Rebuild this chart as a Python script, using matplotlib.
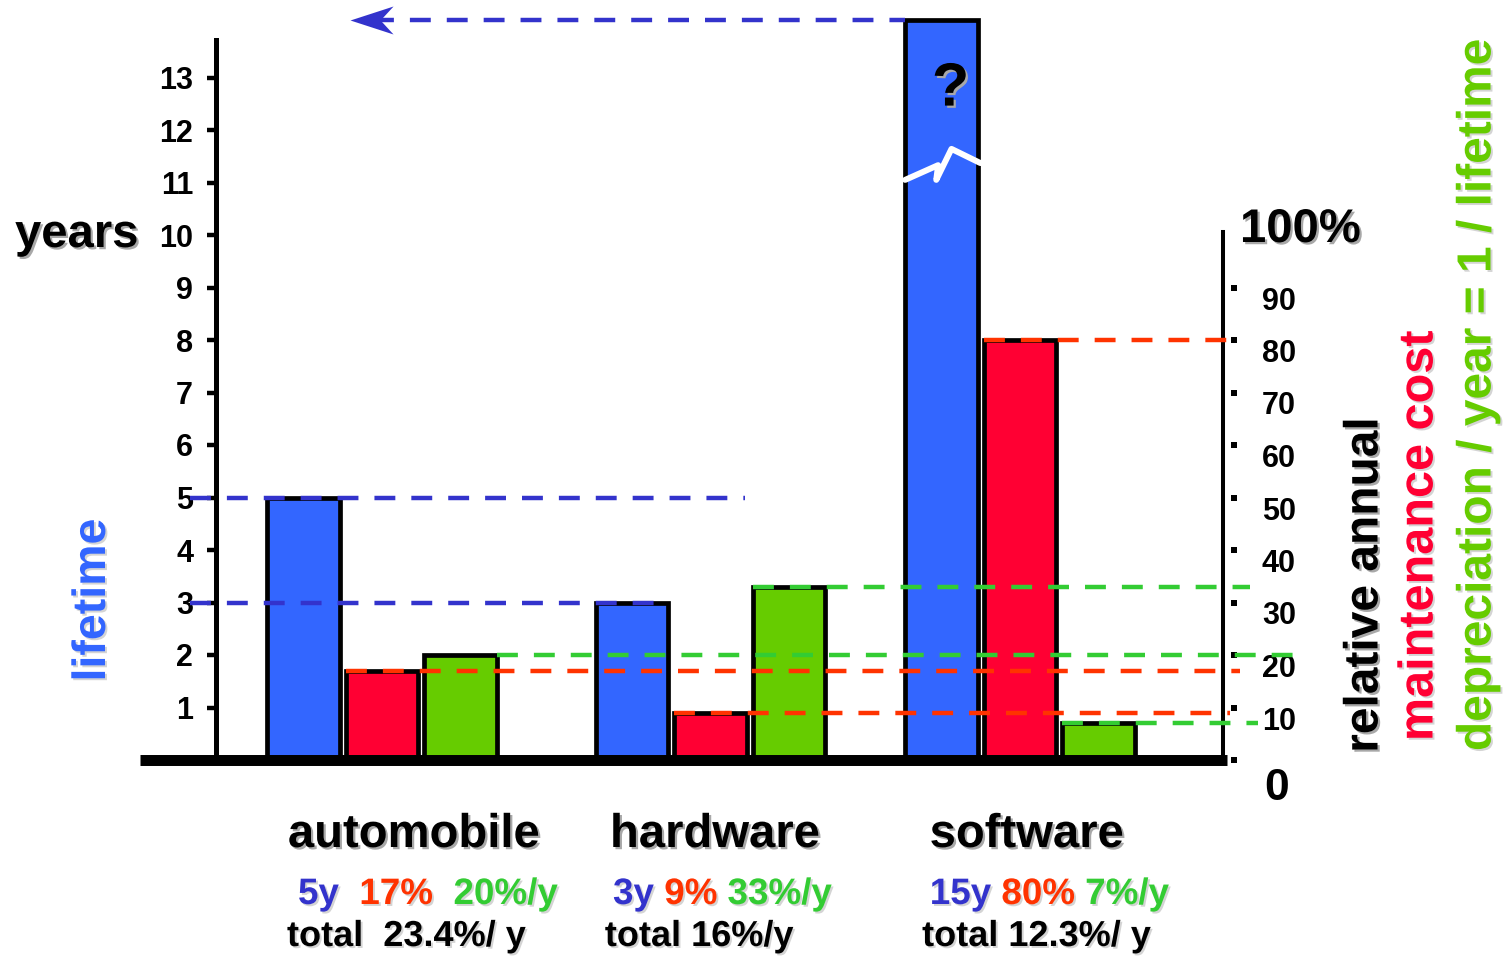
import matplotlib
matplotlib.use("Agg")
import matplotlib.pyplot as plt
import matplotlib.patheffects as pe
from matplotlib.path import Path
from matplotlib.transforms import ScaledTranslation, blended_transform_factory

# ---- data ----
categories = ["automobile", "hardware", "software"]
lifetime_years = [5, 3, 15]        # blue bars, left axis (years)
maintenance_pct = [17, 9, 80]      # red bars, right axis (% per year)
depreciation_pct = [20, 33, 7]     # green bars, right axis (= 1 / lifetime)
total_labels = ["total  23.4%/ y", "total 16%/y", "total 12.3%/ y"]
year_ticks = list(range(1, 14))
pct_ticks = list(range(0, 100, 10))

plt.rcParams["font.family"] = ["Liberation Sans", "DejaVu Sans"]
plt.rcParams["font.weight"] = "bold"

BLUE, RED, GREEN = "#3366ff", "#ff0033", "#66cc00"
BLUE_D, RED_D, GREEN_D = "#3333cc", "#ff3300", "#33cc33"
SHADOW = [pe.withSimplePatchShadow(offset=(1.6, -1.6), shadow_rgbFace="#a8a8a8", alpha=1.0)]
SHADOW_L = [pe.withSimplePatchShadow(offset=(1.4, -1.4), shadow_rgbFace="#d4d4d4", alpha=1.0)]

W, H, DPI = 1509, 960, 100
fig = plt.figure(figsize=(W / DPI, H / DPI), dpi=DPI)


def fx(px):
    return px / W


def fy(py):
    return 1 - py / H


# frame in pixels: left axis line, right axis line, baseline
X0, X1, Y0 = 216, 1223, 760
UNIT = 77.0   # px per bar slot
PPY = 52.5    # px per year (= px per 10 %)

ax = fig.add_axes([fx(X0), fy(Y0), fx(X1) - fx(X0), Y0 / H])
ax.set_xlim(0, (X1 - X0) / UNIT)
ax.set_ylim(0, Y0 / PPY)
ax2 = ax.twinx()
ax2.set_ylim(0, 10 * Y0 / PPY)

# ---- bars ----
group_x = [2.156, 6.42, 10.44]
slot = [-1.02, 0.0, 1.02]
BAR_W = 0.94
BREAK_TOP = 14.1   # the software lifetime bar is drawn broken at this height


def bx(k):
    return [g + slot[k] for g in group_x]


shown_life = [min(v, BREAK_TOP) for v in lifetime_years]
edge = dict(edgecolor="black", linewidth=3.4, zorder=2)
ax.bar(bx(0), shown_life, BAR_W, color=BLUE, **edge)
ax2.bar(bx(1), maintenance_pct, BAR_W, color=RED, **edge)
ax2.bar(bx(2), depreciation_pct, BAR_W, color=GREEN, **edge)

# axis break on the software lifetime bar
sw_left = bx(0)[2] - BAR_W / 2
zz_dx = [0.0, 0.455, 0.43, 0.64, 1.04]
zz_y = [11.05, 11.33, 11.05, 11.64, 11.37]
ax.plot([sw_left + d * BAR_W for d in zz_dx], zz_y, color="white", lw=4.3,
        solid_capstyle="round", zorder=3)
ax.text(bx(0)[2] + 0.12, 12.76, "?", fontsize=44, ha="center", va="center",
        path_effects=SHADOW, zorder=3)

# ---- dashed guide lines ----
DASH = (4.7, 3.6)


def guide(axis, y, x0, x1, color):
    axis.plot([x0, x1], [y, y], color=color, lw=3.2, dashes=DASH,
              dash_capstyle="butt", clip_on=False, zorder=4)


ARROW_X = 1.74
guide(ax, lifetime_years[0], -0.34, 6.87, BLUE_D)
guide(ax, lifetime_years[1], -0.34, 5.77, BLUE_D)
guide(ax, BREAK_TOP, ARROW_X + 0.3, sw_left, BLUE_D)
ARROW = Path([(0, 0), (2, 0.65), (1.4, 0), (2, -0.65), (0, 0)],
             [Path.MOVETO, Path.LINETO, Path.LINETO, Path.LINETO, Path.CLOSEPOLY])
ax.plot([ARROW_X], [BREAK_TOP], ls="none", marker=ARROW, ms=62, mew=0,
        color=BLUE_D, clip_on=False, zorder=4)

guide(ax2, maintenance_pct[2], bx(1)[2] - BAR_W / 2, 13.17, RED_D)
guide(ax2, maintenance_pct[0], bx(1)[0] - BAR_W / 2, 13.30, RED_D)
guide(ax2, maintenance_pct[1], bx(1)[1] - BAR_W / 2, 13.17, RED_D)
guide(ax2, depreciation_pct[1], bx(2)[1] - BAR_W / 2, 13.43, GREEN_D)
guide(ax2, depreciation_pct[0], bx(2)[0] + BAR_W / 2, 14.01, GREEN_D)
guide(ax2, depreciation_pct[2], bx(2)[2] - BAR_W / 2, 13.53, GREEN_D)

# ---- baseline ----
ax2.axhline(0, xmin=(140 - X0) / (X1 - X0), xmax=(1227 - X0) / (X1 - X0),
            color="black", lw=7.9, solid_capstyle="butt", clip_on=False, zorder=6)

# ---- left axis (years) ----
for s in ("top", "bottom", "right"):
    ax.spines[s].set_visible(False)
ax.spines["left"].set_linewidth(3.6)
ax.spines["left"].set_bounds(0.1, 13.71)
ax.set_xticks([])
ax.set_yticks(year_ticks)
ax.set_yticklabels([str(v) for v in year_ticks], fontsize=22, fontweight="bold")
ax.tick_params(axis="y", direction="out", length=6.5, width=3.2, pad=10)
fig.text(fx(15), fy(247), "years", fontsize=34, ha="left", va="baseline",
         path_effects=SHADOW)
fig.text(fx(93), fy(600), "lifetime", fontsize=33.5, color=BLUE, rotation=90,
         ha="center", va="center", path_effects=SHADOW_L)

# ---- right axis (percent) ----
for s in ("top", "bottom", "left"):
    ax2.spines[s].set_visible(False)
ax2.spines["right"].set_linewidth(2.9)
ax2.spines["right"].set_bounds(0, 100.5)
ax2.set_yticks([])
ytr = ax2.get_yaxis_transform()


def off(dx, dy):
    return ScaledTranslation(dx / DPI, -dy / DPI, fig.dpi_scale_trans)


ax2.plot([1.0] * len(pct_ticks), pct_ticks, ls="none", marker="s", ms=4.0, mew=0,
         color="black", transform=ytr + off(11, 0), clip_on=False)
for v in pct_ticks[1:]:
    ax2.text(1.0, v, str(v), transform=ytr + off(39, 14), ha="left", va="center",
             fontsize=22, clip_on=False)
ax2.text(1.0, 0, "0", transform=ytr + off(54, 28), ha="center", va="center",
         fontsize=32, clip_on=False)
ax2.text(1.0, 100, "100%", transform=ytr + off(17, -5), ha="left", va="center",
         fontsize=34, clip_on=False, path_effects=SHADOW)

fig.text(fx(1365), fy(585), "relative annual", fontsize=34.5, rotation=90,
         ha="center", va="center", path_effects=SHADOW)
fig.text(fx(1420), fy(536), "maintenance cost", fontsize=35, color=RED,
         rotation=90, ha="center", va="center", path_effects=SHADOW_L)
fig.text(fx(1478), fy(395), "depreciation / year = 1 / lifetime", fontsize=34.5,
         color=GREEN, rotation=90, ha="center", va="center", path_effects=SHADOW_L)

# ---- category labels and summaries ----
xfig = blended_transform_factory(ax.transData, fig.transFigure)
label_x = [2.57, 6.48, 10.53]
row1_x = [1.065, 5.156, 9.27]
row2_x = [0.922, 5.05, 9.17]
seps = ["  ", " ", " "]

for i, name in enumerate(categories):
    ax.text(label_x[i], fy(847), name, transform=xfig, fontsize=34, ha="center",
            va="baseline", path_effects=SHADOW, clip_on=False)
    pieces = [(f"{lifetime_years[i]}y", BLUE_D),
              (f"{seps[i]}{maintenance_pct[i]}%", RED_D),
              (f"{seps[i]}{depreciation_pct[i]}%/y", GREEN_D)]
    prev = ax.text(row1_x[i], fy(904), pieces[0][0], transform=xfig, fontsize=26.5,
                   color=pieces[0][1], ha="left", va="baseline",
                   path_effects=SHADOW_L, clip_on=False)
    for s, c in pieces[1:]:
        prev = ax.annotate(s, xy=(1, 0), xycoords=prev, ha="left", va="bottom",
                           fontsize=26.5, color=c, path_effects=SHADOW_L,
                           annotation_clip=False)
    ax.text(row2_x[i], fy(946), total_labels[i], transform=xfig, fontsize=26,
            ha="left", va="baseline", path_effects=SHADOW_L, clip_on=False)

fig.savefig("out.png", dpi=DPI)
